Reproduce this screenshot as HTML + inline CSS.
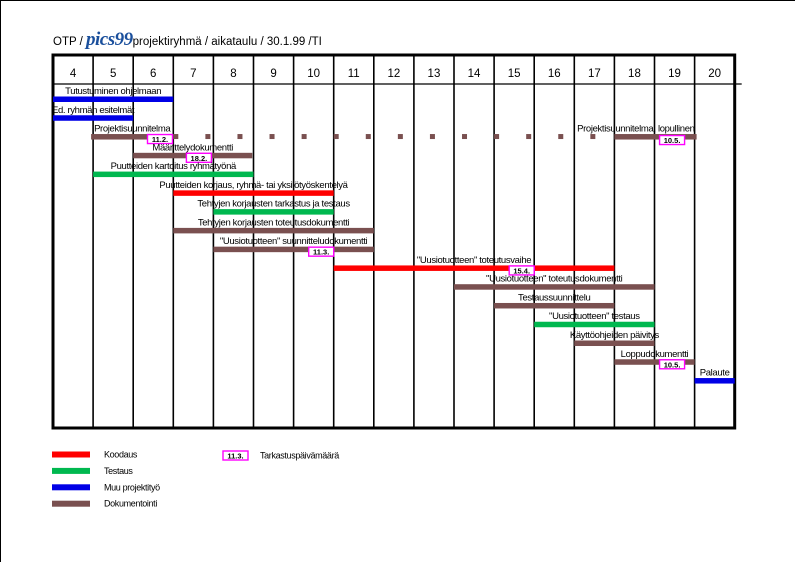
<!DOCTYPE html>
<html><head><meta charset="utf-8"><style>
html,body{margin:0;padding:0;background:#fff;}
svg{display:block;font-family:"Liberation Sans",sans-serif;}
</style></head><body>
<svg id="c" width="795" height="562" viewBox="0 0 795 562" xmlns="http://www.w3.org/2000/svg">
<line x1="0.5" y1="0" x2="0.5" y2="562" stroke="#000"/>
<line x1="0" y1="0.5" x2="795" y2="0.5" stroke="#000"/>
<text x="53" y="45" font-size="11.5">OTP / <tspan font-family="Liberation Serif,serif" font-style="italic" font-weight="bold" font-size="19" fill="#1a4f9c" letter-spacing="-0.5">pics99</tspan>projektiryhmä / aikataulu / 30.1.99 /TI</text>
<g id="grid"></g>
<g id="bars"></g>
<g id="legend"></g>
</svg>
<script>
const weeks = [4,5,6,7,8,9,10,11,12,13,14,15,16,17,18,19,20];
const colors = {coding:"#ff0000", testing:"#00b84f", other:"#0000e6", docs:"#7a5050"};
// [label, type, startWeek, endWeek, tagText, tagWeekRightEdge, labelAnchor]
const tasks = [
 ["Tutustuminen ohjelmaan","other",4,7,null,null,"middle"],
 ["Ed. ryhmän esitelmät","other",4,6,null,null,"middle"],
 ["Projektisuunnitelma","docs",4.95,7,"11.2.",6.98,"middle"],
 ["Määrittelydokumentti","docs",6,8.97,"18.2.",7.95,"middle"],
 ["Puutteiden kartoitus ryhmätyönä","testing",5,9,null,null,"middle"],
 ["Puutteiden korjaus, ryhmä- tai yksilötyöskentelyä","coding",7,11,null,null,"middle"],
 ["Tehtyjen korjausten tarkastus ja testaus","testing",8,11,null,null,"middle"],
 ["Tehtyjen korjausten toteutusdokumentti","docs",7,12,null,null,"middle"],
 ["\"Uusiotuotteen\" suunnitteludokumentti","docs",8,12,"11.3.",11,"middle"],
 ["\"Uusiotuotteen\" toteutusvaihe","coding",11,18,"15.4.",16,"middle"],
 ["\"Uusiotuotteen\" toteutusdokumentti","docs",14,19,null,null,"middle"],
 ["Testaussuunnittelu","docs",15,18,null,null,"middle"],
 ["\"Uusiotuotteen\" testaus","testing",16,19,null,null,"middle"],
 ["Käyttöohjeiden päivitys","docs",17,19,null,null,"middle"],
 ["Loppudokumentti","docs",18,20,"10.5.",19.75,"middle"],
 ["Palaute","other",20,21,null,null,"middle"]
];
// dotted continuation of the project plan, then the final plan
const dotWeeks = [7,7.8,8.6,9.4,10.2,11,11.8,12.6,13.4,14.2,15,15.8,16.6,17.4];
const finalPlan = ["Projektisuunnitelma, lopullinen","docs",18,20.05,"10.5.",19.75];
const legendItems = [["Koodaus","coding"],["Testaus","testing"],["Muu projektityö","other"],["Dokumentointi","docs"]];

const NS="http://www.w3.org/2000/svg";
const X0=53, CW=40.1, TOP=55, HEAD=84, BOT=428, ROW0=99, ROWS=18.77;
const xw = w => X0 + (w - weeks[0]) * CW;
const yr = i => ROW0 + i * ROWS;
function mk(tag, attrs, parent){const e=document.createElementNS(NS,tag);for(const k in attrs)e.setAttribute(k,attrs[k]);parent.appendChild(e);return e;}
const grid=document.getElementById('grid'), bars=document.getElementById('bars'), legend=document.getElementById('legend');
const RIGHT = xw(weeks[weeks.length-1]+1);

// grid
weeks.forEach((w,i)=>{
  if(i>0){const l=mk('line',{x1:xw(w),y1:TOP,x2:xw(w),y2:BOT,stroke:'#000','stroke-width':1.6},grid);
    
    }
  const t=mk('text',{x:xw(w)+CW/2,y:77,'text-anchor':'middle','font-size':11.5},grid);
  t.textContent=w;
  
  
});
const hl=mk('line',{x1:X0,y1:HEAD,x2:RIGHT+7,y2:HEAD,stroke:'#000','stroke-width':1.3},grid);


const fr=mk('rect',{x:X0,y:TOP,width:RIGHT-X0,height:BOT-TOP,fill:'none',stroke:'#000','stroke-width':3},grid);



function tagBox(txt,xr,ytop,parent){
  const r=mk('rect',{x:xr-25,y:ytop,width:25,height:9,fill:'#fff',stroke:'#ff00ff','stroke-width':1.4},parent);
  
  
  const t=mk('text',{x:xr-12.5,y:ytop+7.5,'text-anchor':'middle','font-size':7.5,'font-weight':'bold'},parent);
  t.textContent=txt;
  
  
}
function label(txt,x,y,anchor){
  const t=mk('text',{x:x,y:y,'text-anchor':anchor,'font-size':9.5,'letter-spacing':'-0.35'},bars);
  t.textContent=txt;
  
  
}
tasks.forEach((d,i)=>{
  const y=yr(i), x1=xw(d[2]), x2=xw(d[3]);
  const r=mk('rect',{x:x1,y:y-2.5,width:x2-x1,height:5.5,fill:colors[d[1]]},bars);
  
  
  label(d[0],(x1+x2)/2,y-5,d[6]);
  if(d[4]) tagBox(d[4],xw(d[5]),y-2,bars);
});
// dots for project plan row
dotWeeks.forEach(w=>{
  const r=mk('rect',{x:xw(w),y:yr(2)-2.5,width:5,height:5,fill:colors.docs},bars);
  
  
});
{
  const y=yr(2), x1=xw(finalPlan[2]), x2=xw(finalPlan[3]);
  const r=mk('rect',{x:x1,y:y-2.5,width:x2-x1,height:5.5,fill:colors[finalPlan[1]]},bars);
  
  
  label(finalPlan[0],x2-2,y-5,'end');
  tagBox(finalPlan[4],xw(finalPlan[5]),y-1,bars);
}
// legend
legendItems.forEach((d,i)=>{
  const y=454+i*16.4;
  const r=mk('rect',{x:52,y:y-2.5,width:38,height:6,fill:colors[d[1]]},legend);
  
  
  const t=mk('text',{x:104,y:y+3.5,'font-size':9,'letter-spacing':'-0.35'},legend);
  t.textContent=d[0];
  
  
});
tagBox('11.3.',248,451,legend);
{
  const t=mk('text',{x:260,y:458.5,'font-size':9,'letter-spacing':'-0.35'},legend);
  t.textContent='Tarkastuspäivämäärä';
  
  
}
</script>
</body></html>
